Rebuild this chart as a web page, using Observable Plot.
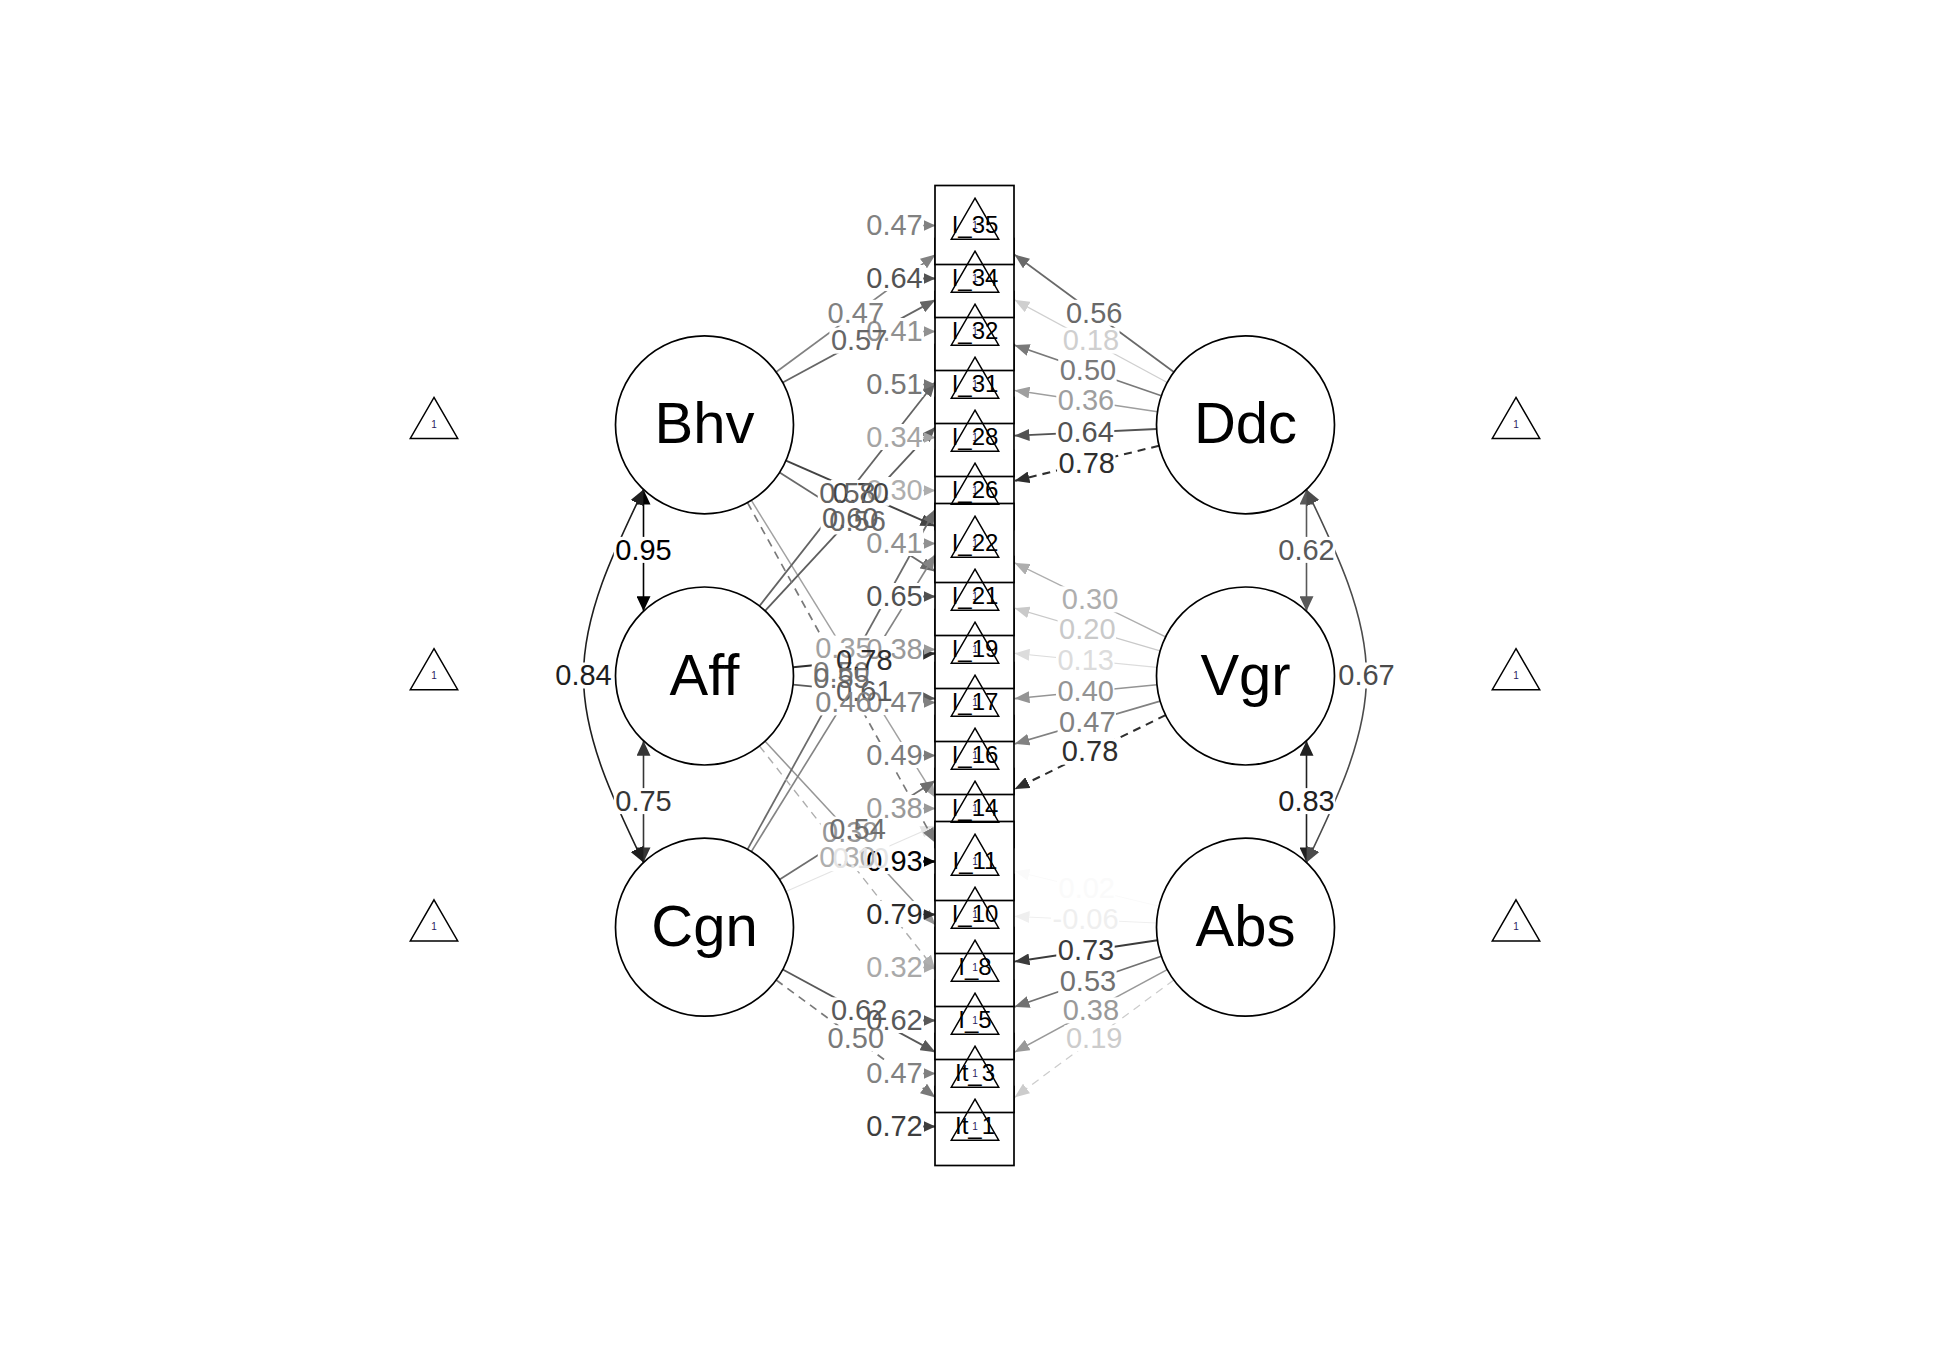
<!DOCTYPE html>
<html><head><meta charset="utf-8">
<script src="https://cdn.jsdelivr.net/npm/d3@7"></script>
<script src="https://cdn.jsdelivr.net/npm/@observablehq/plot@0.6"></script>
<style>html,body{margin:0;padding:0;background:#fff;} svg{display:block}</style>
</head><body><div id="chart"></div>
<script>
// ---------------- data ----------------
const items = ["I_35","I_34","I_32","I_31","I_28","I_26","I_22","I_21","I_19","I_17","I_16","I_14","I_11","I_10","I_8","I_5","It_3","It_1"];
const residuals = [0.47,0.64,0.41,0.51,0.34,0.30,0.41,0.65,0.38,0.47,0.49,0.38,0.93,0.79,0.32,0.62,0.47,0.72];

const leftFactors = ["Bhv","Aff","Cgn"];
const rightFactors = ["Ddc","Vgr","Abs"];

const bhvItems = ["I_35","I_34","I_22","I_21","I_11","I_10"];
const bhvLoadings = [0.47,0.57,0.70,0.56,0.35,0.50];
const affItems = ["I_32","I_31","I_19","I_17","I_8","I_5"];
const affLoadings = [0.58,0.60,0.78,0.61,0.39,0.30];
const cgnItems = ["I_28","I_26","I_16","I_14","It_3","It_1"];
const cgnLoadings = [0.55,0.46,0.54,0.10,0.62,0.50];
const ddcItems = ["I_35","I_34","I_32","I_31","I_28","I_26"];
const ddcLoadings = [0.56,0.18,0.50,0.36,0.64,0.78];
const vgrItems = ["I_22","I_21","I_19","I_17","I_16","I_14"];
const vgrLoadings = [0.30,0.20,0.13,0.40,0.47,0.78];
const absItems = ["I_11","I_10","I_8","I_5","It_3","It_1"];
const absLoadings = [0.02,-0.06,0.73,0.53,0.38,0.19];
// fixed (marker) loading of each factor, drawn dashed
const fixedItems = ["I_10","I_5","It_1","I_26","I_14","It_1"];

const covFrom = ["Bhv","Aff","Bhv","Ddc","Vgr","Ddc"];
const covTo   = ["Aff","Cgn","Cgn","Vgr","Abs","Abs"];
const covValues = [0.95,0.75,0.84,0.62,0.83,0.67];

// ---------------- layout (column / row units) ----------------
const W = 1950, H = 1350;
const colPx = 270.5, colOrigin = 974.5, rowPx = 53, rowOrigin = 225;
const px = u => colOrigin + colPx * u, py = r => rowOrigin + rowPx * r;
const ux = p => (p - colOrigin) / colPx, ry = p => (p - rowOrigin) / rowPx;
const factorRow = k => 8.5 + (k - 1) * 4.74;
const nodeR = 89, boxHalf = 39.5;
const labelSize = 29;

const factors = [
  ...leftFactors.map((name, k) => ({name, side: -1, col: -1, row: factorRow(k)})),
  ...rightFactors.map((name, k) => ({name, side: 1, col: 1, row: factorRow(k)}))
];
const fIndex = new Map(factors.map(f => [f.name, f]));
const itemRow = new Map(items.map((d, i) => [d, i]));

const allValues = [...residuals, ...bhvLoadings, ...affLoadings, ...cgnLoadings,
  ...ddcLoadings, ...vgrLoadings, ...absLoadings, ...covValues];
const maxAbs = d3.max(allValues, v => Math.abs(v));
const grey = v => { const g = Math.round(255 * (1 - Math.min(1, Math.abs(v) / maxAbs))); return `rgb(${g},${g},${g})`; };
const lw = v => 1 + 1.3 * Math.abs(v) / maxAbs;
const fmt = v => v.toFixed(2);

// loading edges
const loadingSets = [
  ["Bhv", bhvItems, bhvLoadings], ["Aff", affItems, affLoadings], ["Cgn", cgnItems, cgnLoadings],
  ["Ddc", ddcItems, ddcLoadings], ["Vgr", vgrItems, vgrLoadings], ["Abs", absItems, absLoadings]
];
const edges = loadingSets.flatMap(([f, its, vals], fi) => its.map((it, j) => {
  const F = fIndex.get(f);
  const cx = px(F.col), cy = py(F.row), ix = px(0), iy = py(itemRow.get(it));
  const dx = ix - cx, dy = iy - cy, len = Math.hypot(dx, dy);
  const sx = cx + nodeR * dx / len, sy = cy + nodeR * dy / len;
  const ex = ix + F.side * boxHalf, ey = cy + (ex - cx) / dx * dy;
  return {factor: f, item: it, value: vals[j], fixed: fixedItems[fi] === it,
    x1: ux(sx), y1: ry(sy), x2: ux(ex), y2: ry(ey), mx: ux((sx + ex) / 2), my: ry((sy + ey) / 2)};
}));

// residual arrows
const resid = items.map((it, i) => ({item: it, value: residuals[i], y: i,
  x1: ux(px(0) - boxHalf - 62), x2: ux(px(0) - boxHalf), mx: ux(px(0) - boxHalf - 41)}));

// covariances
const covs = covFrom.map((a, i) => {
  const A = fIndex.get(a), B = fIndex.get(covTo[i]);
  const off = 61, d0 = Math.sqrt(nodeR * nodeR - off * off);
  const x = px(A.col) + A.side * off;
  const y1 = py(A.row) + d0, y2 = py(B.row) - d0;
  const curved = Math.abs(B.row - A.row) > 5;
  const bx = curved ? x + A.side * 60 : x;
  return {id: i, value: covValues[i], curved, x: ux(x), y1: ry(y1), y2: ry(y2), bx: ux(bx), my: ry((y1 + y2) / 2)};
});
const covCurvePts = covs.filter(d => d.curved).flatMap(d => [
  {id: d.id, value: d.value, x: d.x, y: d.y1},
  {id: d.id, value: d.value, x: d.bx, y: d.my},
  {id: d.id, value: d.value, x: d.x, y: d.y2}
]);

// all value labels (white background boxes drawn first, then texts)
const charW = c => (c === "." ? 0.278 : c === "-" ? 0.333 : 0.556);
const labels = [
  ...resid.map(d => ({value: d.value, x: d.mx, y: d.y})),
  ...edges.map(d => ({value: d.value, x: d.mx, y: d.my})),
  ...covs.map(d => ({value: d.value, x: d.bx, y: d.my}))
].map(d => {
  const t = fmt(d.value);
  const hw = d3.sum([...t], charW) * labelSize / 2 + 1;
  return {...d, text: t, bx1: ux(px(d.x) - hw), bx2: ux(px(d.x) + hw), by1: ry(py(d.y) - 13), by2: ry(py(d.y) + 13)};
});

// item boxes: drawing order (later on top)
const drawOrder = [...cgnItems].reverse().concat([...affItems].reverse(), [...bhvItems].reverse());
const boxes = drawOrder.map(it => ({item: it, x1: ux(px(0) - boxHalf), x2: ux(px(0) + boxHalf),
  y1: itemRow.get(it) - boxHalf / rowPx, y2: itemRow.get(it) + boxHalf / rowPx}));

// ---------------- arrowheads ----------------
function head(len, wid) {
  return (color, context) => {
    const doc = (context && context.document) || document;
    const ns = "http://www.w3.org/2000/svg";
    const m = doc.createElementNS(ns, "marker");
    m.setAttribute("viewBox", `${-len} ${-wid / 2} ${len} ${wid}`);
    m.setAttribute("markerWidth", len);
    m.setAttribute("markerHeight", wid);
    m.setAttribute("markerUnits", "userSpaceOnUse");
    m.setAttribute("refX", 0);
    m.setAttribute("refY", 0);
    m.setAttribute("orient", "auto-start-reverse");
    const p = doc.createElementNS(ns, "path");
    p.setAttribute("d", `M${-len},${-wid / 2}L0,0L${-len},${wid / 2}Z`);
    p.setAttribute("fill", color);
    p.setAttribute("stroke", "none");
    m.appendChild(p);
    return m;
  };
}
const headEdge = head(15, 12), headRes = head(12, 11), headCov = head(15, 14);

const font = "Liberation Sans, Arial, Helvetica, sans-serif";

const chart = Plot.plot({
  width: W, height: H, margin: 0,
  x: {domain: [ux(0), ux(W)], range: [0, W], axis: null},
  y: {domain: [ry(0), ry(H)], range: [0, H], axis: null},
  color: {type: "identity"},
  style: {fontFamily: font, background: "white"},
  marks: [
    // covariance lines
    Plot.link(covs.filter(d => !d.curved), {x1: "x", x2: "x", y1: "y1", y2: "y2",
      stroke: d => grey(d.value), strokeWidth: 1.6, markerStart: headCov, markerEnd: headCov}),
    Plot.line(covCurvePts, {x: "x", y: "y", z: "id", curve: "natural",
      stroke: d => grey(d.value), strokeWidth: 1.6, markerStart: headCov, markerEnd: headCov}),
    // loadings
    Plot.link(edges.filter(d => !d.fixed), {x1: "x1", y1: "y1", x2: "x2", y2: "y2",
      stroke: d => grey(d.value), strokeWidth: d => lw(d.value), markerEnd: headEdge}),
    Plot.link(edges.filter(d => d.fixed), {x1: "x1", y1: "y1", x2: "x2", y2: "y2",
      stroke: d => grey(d.value), strokeWidth: d => lw(d.value), strokeDasharray: "8,6", markerEnd: headEdge}),
    // residual arrows
    Plot.link(resid, {x1: "x1", x2: "x2", y1: "y", y2: "y",
      stroke: d => grey(d.value), strokeWidth: d => lw(d.value), markerEnd: headRes}),
    // latent factors
    Plot.dot(factors, {x: "col", y: "row", r: nodeR, fill: "white", stroke: "black", strokeWidth: 1.7}),
    Plot.text(factors, {x: "col", y: "row", text: "name", fontSize: 58, fill: "black"}),
    Plot.dot(factors, {x: d => 2 * d.side, y: "row", symbol: "triangle", r: 17.6, fill: "none", stroke: "black", strokeWidth: 1.5}),
    Plot.text(factors, {x: d => 2 * d.side, y: "row", text: d => "1", fontSize: 10, fill: "#2b1a5e"}),
    // item boxes
    Plot.rect(boxes, {x1: "x1", x2: "x2", y1: "y1", y2: "y2", fill: "white", stroke: "black", strokeWidth: 1.7}),
    Plot.dot(items, {x: d => 0, y: (d, i) => i, symbol: "triangle", r: 17.6, fill: "none", stroke: "black", strokeWidth: 1.5}),
    Plot.text(items, {x: d => 0, y: (d, i) => i, text: d => "1", fontSize: 10, fill: "#2b1a5e"}),
    Plot.text(items, {x: d => 0, y: (d, i) => i, text: d => d, fontSize: 24, fill: "black"}),
    // value labels: white boxes, then texts
    Plot.rect(labels, {x1: "bx1", x2: "bx2", y1: "by1", y2: "by2", fill: "white"}),
    Plot.text(labels, {x: "x", y: "y", text: "text", fill: d => grey(d.value), fontSize: labelSize})
  ]
});
document.getElementById("chart").appendChild(chart);
</script></body></html>
